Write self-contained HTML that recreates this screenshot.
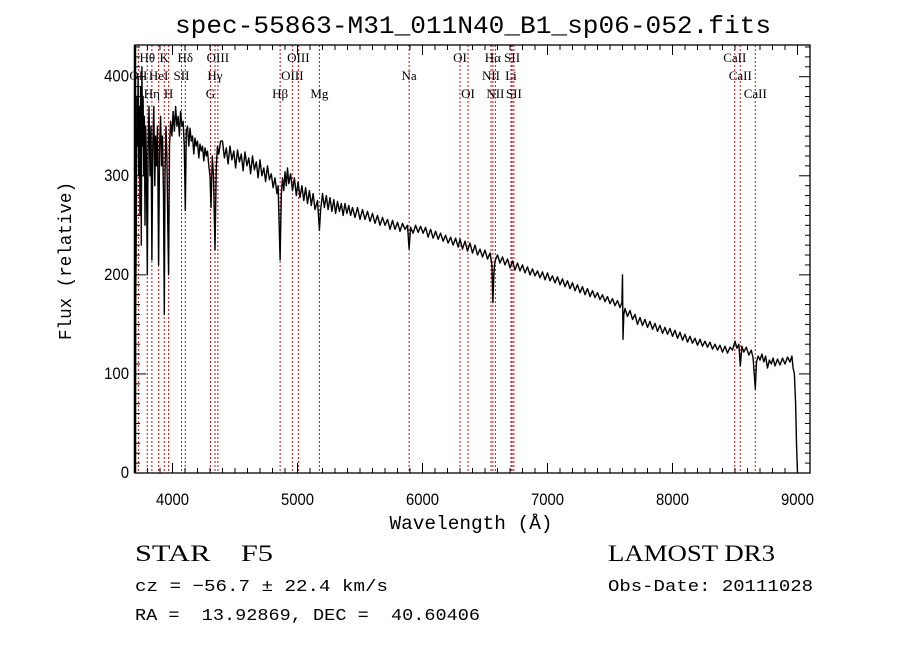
<!DOCTYPE html>
<html><head><meta charset="utf-8"><style>
html,body{margin:0;padding:0;background:#fff;}
svg{display:block;}
text{fill:#000;white-space:pre;}
</style></head><body>
<svg id="chart" width="900" height="649" viewBox="0 0 900 649" xmlns="http://www.w3.org/2000/svg" xml:space="preserve">
<rect width="900" height="649" fill="#fff"/>
<text x="473" y="33" font-family="Liberation Mono, monospace" font-size="25" text-anchor="middle" textLength="596" lengthAdjust="spacingAndGlyphs">spec-55863-M31_011N40_B1_sp06-052.fits</text>
<g id="lines"></g>
<g id="labels"></g>
<path id="spec" fill="none" stroke="#000" stroke-width="1.4" stroke-linejoin="round"/>
<g id="axes"></g>
<text x="471" y="529" font-family="Liberation Mono, monospace" font-size="19" text-anchor="middle" textLength="163" lengthAdjust="spacingAndGlyphs">Wavelength (Å)</text>
<text transform="translate(71,261) rotate(-90)" font-family="Liberation Mono, monospace" font-size="18" text-anchor="middle" textLength="158" lengthAdjust="spacingAndGlyphs">Flux (relative)</text>
<text x="135" y="561" font-family="Liberation Serif, serif" font-size="23" textLength="138" lengthAdjust="spacingAndGlyphs">STAR    F5</text>
<text x="608" y="561" font-family="Liberation Serif, serif" font-size="23" textLength="167" lengthAdjust="spacingAndGlyphs">LAMOST DR3</text>
<text x="135" y="591" font-family="Liberation Mono, monospace" font-size="17" textLength="253" lengthAdjust="spacingAndGlyphs">cz = −56.7 ± 22.4 km/s</text>
<text x="608" y="591" font-family="Liberation Mono, monospace" font-size="17" textLength="205" lengthAdjust="spacingAndGlyphs">Obs-Date: 20111028</text>
<text x="135" y="620" font-family="Liberation Mono, monospace" font-size="17" textLength="345" lengthAdjust="spacingAndGlyphs">RA =  13.92869, DEC =  40.60406</text>
</svg>
<script>
const wavelengths = [3702,3705,3710,3715,3720,3725,3730,3735,3740,3745,3750,3755,3760,3765,3770,3775,3780,3785,3790,3798,3805,3812,3820,3828,3835,3842,3850,3858,3865,3872,3880,3889,3897,3905,3912,3920,3928,3934,3940,3948,3955,3962,3969,3976,3985,3995,4005,4015,4025,4035,4045,4055,4065,4075,4085,4094,4102,4110,4120,4130,4140,4150,4160,4170,4180,4190,4200,4210,4220,4230,4240,4250,4260,4270,4280,4290,4300,4308,4318,4328,4340,4350,4360,4370,4385,
4400,4415,4430,4445,4460,4475,4490,4505,4520,4535,4550,4565,4580,4595,4610,4625,4640,4655,4670,4685,4700,4715,4730,4745,4760,4775,4790,4805,4820,4835,4845,4861,4870,4880,4890,4900,4910,4920,4930,4945,4960,4975,4990,5005,5020,5035,5050,5065,5080,5095,5110,5125,5140,5160,5175,5185,5200,5215,5230,5245,5260,5275,5290,5305,5320,5335,5350,5365,5380,5395,5410,5425,5440,5460,5480,5500,5520,5540,5560,5580,5600,5620,5640,5660,5680,5700,5720,5740,5760,5780,5800,5820,5840,5860,5880,5893,5905,5925,5945,5965,5985,6005,6025,6045,6065,6085,6105,6125,6145,6165,6185,6205,6225,6245,6265,6285,6300,6320,6340,6360,6380,6400,6420,6440,6460,6480,6500,6520,6540,6555,6563,6570,6580,6600,6620,6640,6660,6680,6700,6720,6740,6760,6780,6800,6820,6840,6860,6880,6900,6920,6940,6960,6980,7000,7020,7040,7060,7080,7100,7120,7140,7160,7180,7200,7220,7240,7260,7280,7300,7320,7340,7360,7380,7400,7420,7440,7460,7480,7500,7520,7540,7560,7580,7595,7600,7604,7610,7620,7640,7660,7680,7700,7720,7740,7760,7780,7800,7820,7840,7860,7880,7900,7920,7940,7960,7980,8000,8020,8040,8060,8080,8100,8120,8140,8160,8180,8200,8220,8240,8260,8280,8300,8320,8340,8360,8380,8400,8420,8440,8460,8480,8500,8515,8530,8542,8555,8570,8590,8610,8630,8645,8662,8672,8685,8700,8715,8730,8745,8760,8775,8790,8805,8820,8840,8860,8880,8900,8920,8940,8955,8965,8975,8985,8992,9000];
const fluxValues = [0,160,250,380,330,400,300,370,260,390,230,410,330,380,300,360,250,350,320,200,330,370,300,350,215,330,370,290,340,310,350,210,330,360,310,340,280,160,300,350,320,250,200,330,355,340,365,345,370,350,360,340,365,350,355,330,265,345,350,330,348,335,340,322,338,330,335,318,332,325,330,315,328,320,325,310,300,268,320,300,225,310,330,322,335,
335,318,328,312,330,316,325,308,326,314,322,305,324,310,318,302,320,306,314,298,316,300,308,294,310,296,302,288,298,282,290,215,280,298,285,304,290,308,292,302,285,298,280,294,278,290,275,288,272,285,270,282,266,275,245,265,282,268,280,266,278,264,276,262,274,264,272,260,272,262,270,260,268,258,268,256,266,256,264,254,262,252,260,250,258,250,256,246,255,246,253,244,252,246,250,226,248,242,250,243,249,242,248,238,246,237,244,236,242,234,240,232,238,230,237,228,236,226,234,224,232,222,230,220,226,218,225,216,222,210,172,200,214,220,212,218,210,216,207,214,205,212,204,210,202,208,200,206,199,204,197,203,195,202,194,199,192,198,190,196,188,194,186,192,184,190,182,188,180,186,178,184,177,182,175,180,173,178,171,176,169,174,167,172,200,135,160,166,158,164,155,160,150,157,149,155,147,153,145,151,143,149,141,147,140,146,138,144,136,142,134,140,132,138,131,136,129,135,128,133,127,132,125,130,124,129,122,128,121,127,124,133,126,130,108,128,122,127,119,124,116,85,112,118,114,120,112,118,106,114,110,116,108,115,109,116,110,117,112,118,106,100,70,30,0];
const lineWaves = [3727,3798,3835,3889,3934,3969,4072,4102,4304,4340,4363,4861,4959,5007,5175,5893,6300,6364,6548,6563,6583,6708,6717,6731,8498,8542,8662];
const lineNames = ["OII","Hθ","Hη","HeI","K","H","SII","Hδ","G","Hγ","OIII","Hβ","OIII","OIII","Mg","Na","OI","OI","NII","Hα","NII","Li","SII","SII","CaII","CaII","CaII"];
const lineRows = [2,1,3,2,1,3,2,1,3,2,1,3,2,1,3,2,1,3,2,1,3,2,1,3,1,2,3];
const xTicks = [4000,5000,6000,7000,8000,9000];
const yTicks = [0,100,200,300,400];

const X0=135,X1=810,Y0=473,Y1=45,XMIN=3700,XMAX=9100,YMIN=0,YMAX=432;
const xs=v=>X0+(v-XMIN)/(XMAX-XMIN)*(X1-X0);
const ys=v=>Y0-(v-YMIN)/(YMAX-YMIN)*(Y0-Y1);
const NS="http://www.w3.org/2000/svg";
function mk(tag,parent){const e=document.createElementNS(NS,tag);parent.appendChild(e);return e;}

let d="";
wavelengths.forEach((w,i)=>{d+=(i?"L":"M")+xs(w).toFixed(1)+","+ys(fluxValues[i]).toFixed(1);});
document.getElementById("spec").setAttribute("d",d);

const lg=document.getElementById("lines"), lb=document.getElementById("labels");
const rowY=[0,62,80,98];
lineWaves.forEach((w,i)=>{
  const x=xs(w);
  const l=mk("line",lg);
  
  
  l.setAttribute("x1",x);l.setAttribute("x2",x);l.setAttribute("y1",Y1);l.setAttribute("y2",Y0);
  l.setAttribute("stroke","#b5141a");l.setAttribute("stroke-width","1");l.setAttribute("stroke-dasharray","2,2");
  const t=mk("text",lb);
  
  
  t.setAttribute("x",x);t.setAttribute("y",rowY[lineRows[i]]);
  t.setAttribute("text-anchor","middle");t.setAttribute("font-family","Liberation Serif, serif");t.setAttribute("font-size","13");
  t.textContent=lineNames[i];
});

const ax=document.getElementById("axes");
const fr=mk("rect",ax);


fr.setAttribute("x",X0);fr.setAttribute("y",Y1);fr.setAttribute("width",X1-X0);fr.setAttribute("height",Y0-Y1);
fr.setAttribute("fill","none");fr.setAttribute("stroke","#000");fr.setAttribute("stroke-width","1.3");
const lft=mk("line",ax);


lft.setAttribute("x1",X0);lft.setAttribute("x2",X0);lft.setAttribute("y1",Y1);lft.setAttribute("y2",Y0);lft.setAttribute("stroke","#000");lft.setAttribute("stroke-width","2.5");
function tick(x1,y1,x2,y2){const t=mk("line",ax);
  
  
  t.setAttribute("x1",x1);t.setAttribute("y1",y1);t.setAttribute("x2",x2);t.setAttribute("y2",y2);t.setAttribute("stroke","#000");t.setAttribute("stroke-width","1");}
for(let w=3700;w<=9100;w+=100){const x=xs(w);const L=(w%1000===0)?10:5;tick(x,Y0,x,Y0-L);tick(x,Y1,x,Y1+L);}
for(let v=0;v<=430;v+=10){const y=ys(v);const L=(v%100===0)?11:5;tick(X0,y,X0+L,y);tick(X1,y,X1-L,y);}
xTicks.forEach(v=>{const t=mk("text",ax);
  
  
  t.setAttribute("x",xs(v));t.setAttribute("y",505);t.setAttribute("text-anchor","middle");
  t.setAttribute("font-family","Liberation Sans, sans-serif");t.setAttribute("font-size","17");
  t.setAttribute("textLength","33");t.setAttribute("lengthAdjust","spacingAndGlyphs");t.textContent=v;});
yTicks.forEach(v=>{const t=mk("text",ax);
  
  
  t.setAttribute("x",129);t.setAttribute("y",ys(v)+5);t.setAttribute("text-anchor","end");
  t.setAttribute("font-family","Liberation Sans, sans-serif");t.setAttribute("font-size","17");
  t.setAttribute("textLength",String(String(v).length*8.3));t.setAttribute("lengthAdjust","spacingAndGlyphs");t.textContent=v;});
</script>
</body></html>
